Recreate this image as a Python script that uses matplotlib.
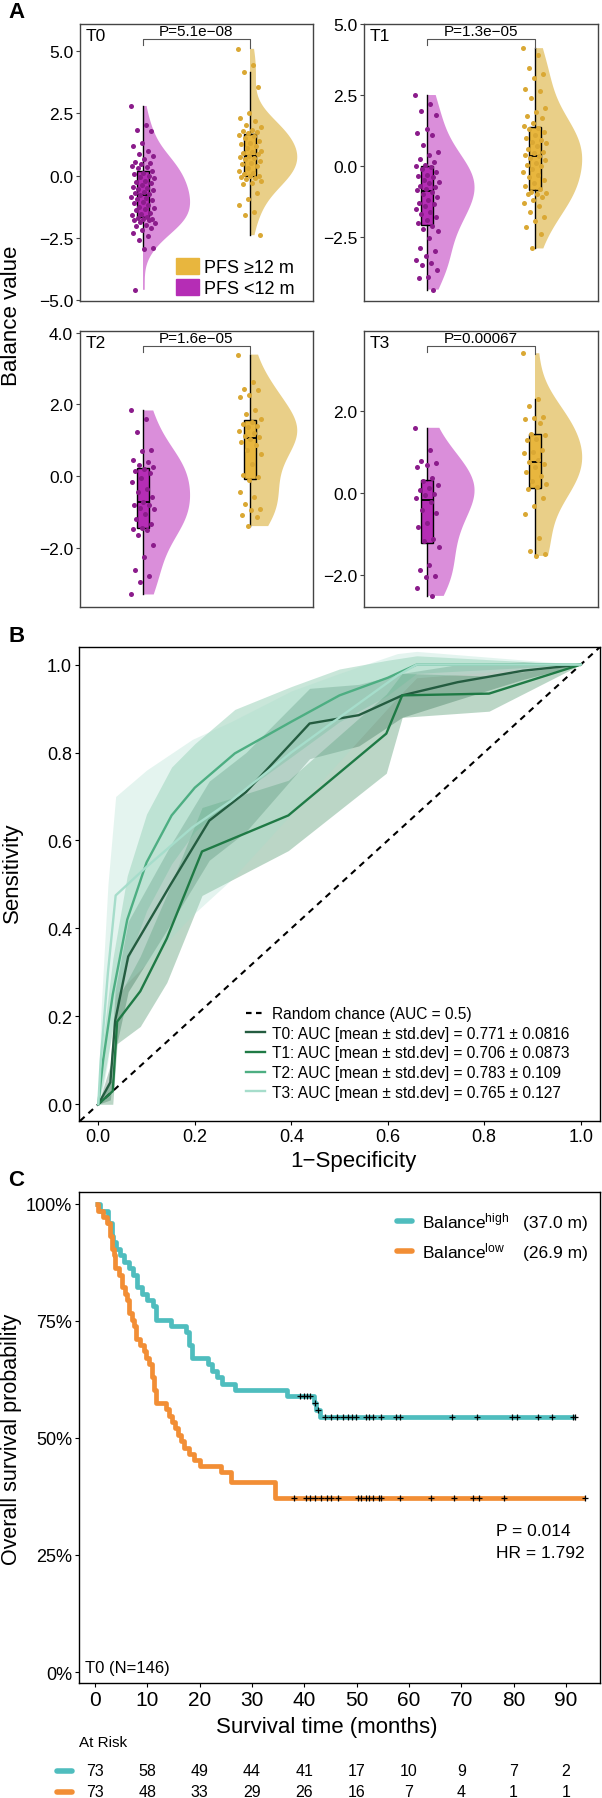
import numpy as np
import matplotlib.pyplot as plt
from matplotlib.lines import Line2D
from matplotlib.patches import Patch, Rectangle
from matplotlib.ticker import FuncFormatter
from matplotlib.transforms import blended_transform_factory

plt.rcParams['font.family'] = ['Liberation Sans', 'DejaVu Sans']
plt.rcParams['mathtext.fontset'] = 'custom'
plt.rcParams['mathtext.rm'] = 'Liberation Sans'
plt.rcParams['mathtext.it'] = 'Liberation Sans:italic'

# ---------------- panel A: balance value by PFS group ----------------
t0_short = [2.8, 2.05, 1.85, 1.8, 1.3, 1.2, 1.0, 0.85, 0.8, 0.65, 0.55, 0.5, 0.45, 0.4,
            0.35, 0.3, 0.2, 0.1, 0.05, 0.0, -0.05, -0.1, -0.2, -0.25, -0.3, -0.4, -0.45,
            -0.5, -0.55, -0.6, -0.65, -0.7, -0.75, -0.8, -0.85, -0.9, -0.95, -1.0, -1.05,
            -1.1, -1.2, -1.25, -1.3, -1.35, -1.4, -1.5, -1.55, -1.6, -1.65, -1.7, -1.75,
            -1.75, -1.8, -1.8, -1.85, -1.9, -2.0, -2.05, -2.1, -2.2, -2.3, -2.45, -2.6,
            -2.9, -2.95, -4.6]
t0_long = [5.1, 4.45, 4.15, 3.55, 2.5, 2.3, 2.2, 2.05, 1.95, 1.85, 1.8, 1.75, 1.7, 1.65,
           1.6, 1.5, 1.4, 1.3, 1.25, 1.2, 1.1, 1.0, 0.95, 0.9, 0.85, 0.8, 0.75, 0.7, 0.65,
           0.6, 0.5, 0.45, 0.4, 0.3, 0.2, 0.1, 0.05, 0.0, 0.0, -0.05, -0.1, -0.15, -0.2,
           -0.3, -0.35, -0.7, -0.95, -1.2, -1.45, -1.6, -2.4]
t1_short = [2.5, 2.2, 1.95, 1.8, 1.3, 1.15, 1.1, 0.75, 0.5, 0.4, 0.25, 0.15, 0.05, 0.0,
            -0.05, -0.1, -0.2, -0.3, -0.35, -0.4, -0.5, -0.55, -0.6, -0.7, -0.75, -0.8,
            -0.85, -0.9, -1.0, -1.1, -1.2, -1.3, -1.35, -1.4, -1.5, -1.6, -1.7, -1.8, -1.9,
            -2.0, -2.1, -2.2, -2.3, -2.55, -2.9, -3.0, -3.15, -3.3, -3.4, -3.5, -3.65, -3.9,
            -3.95, -4.35]
t1_long = [4.15, 3.9, 3.45, 3.25, 3.1, 2.7, 2.65, 2.4, 2.05, 1.9, 1.75, 1.7, 1.5, 1.4,
           1.35, 1.3, 1.2, 1.1, 1.0, 0.9, 0.85, 0.8, 0.7, 0.6, 0.5, 0.45, 0.4, 0.35, 0.3,
           0.2, 0.1, 0.05, 0.0, -0.1, -0.2, -0.3, -0.4, -0.5, -0.6, -0.7, -0.8, -0.9,
           -0.95, -1.0, -1.0, -1.1, -1.2, -1.3, -1.4, -1.6, -1.8, -1.95, -2.15, -2.4, -2.9]
t2_short = [1.83, 1.6, 1.23, 0.72, 0.7, 0.44, 0.39, 0.32, 0.25, 0.2, 0.13, 0.07, -0.07,
            -0.17, -0.35, -0.45, -0.59, -0.73, -0.8, -0.82, -0.89, -0.91, -1.05, -1.19,
            -1.33, -1.45, -1.47, -1.52, -1.66, -1.93, -2.26, -2.63, -2.79, -2.96, -3.31]
t2_long = [3.39, 2.62, 2.44, 2.4, 2.25, 2.2, 1.83, 1.74, 1.6, 1.5, 1.45, 1.41, 1.37, 1.27,
           1.2, 1.13, 1.09, 1.04, 0.95, 0.86, 0.72, 0.62, 0.34, 0.02, -0.03, -0.1, -0.45,
           -0.59, -0.77, -0.91, -0.96, -1.1, -1.14, -1.4]
t3_short = [1.58, 1.04, 0.77, 0.73, 0.67, 0.64, 0.37, 0.28, 0.18, 0.11, 0.06, -0.02, -0.05,
            -0.13, -0.21, -0.41, -0.49, -0.72, -0.84, -1.13, -1.17, -1.31, -1.74, -1.86,
            -2.02, -2.04, -2.31, -2.5]
t3_long = [3.39, 2.28, 2.1, 1.85, 1.81, 1.8, 1.69, 1.44, 1.4, 1.32, 1.28, 1.04, 1.0, 0.96,
           0.79, 0.75, 0.69, 0.63, 0.51, 0.42, 0.3, 0.22, 0.14, 0.1, -0.13, -0.31, -0.51,
           -1.09, -1.41, -1.49, -1.53]
tags = ['T0', 'T1', 'T2', 'T3']
pvals = ['P=5.1e\u221208', 'P=1.3e\u221205', 'P=1.6e\u221205', 'P=0.00067']

# ---------------- panel B: ROC curves (mean and std.dev) ----------------
roc_t0_x = [0, 0.025, 0.035, 0.062, 0.15, 0.23, 0.306, 0.438, 0.54, 0.63, 0.745, 0.88, 1.0]
roc_t0_y = [0, 0.05, 0.19, 0.336, 0.50, 0.645, 0.71, 0.866, 0.885, 0.93, 0.96, 0.986, 1.0]
roc_t0_sd = [0, 0.04, 0.07, 0.08, 0.09, 0.09, 0.09, 0.08, 0.07, 0.05, 0.04, 0.02, 0]
roc_t1_x = [0, 0.03, 0.039, 0.087, 0.142, 0.215, 0.394, 0.597, 0.63, 0.81, 1.0]
roc_t1_y = [0, 0.03, 0.188, 0.257, 0.377, 0.575, 0.657, 0.843, 0.93, 0.934, 1.0]
roc_t1_sd = [0, 0.03, 0.05, 0.08, 0.1, 0.1, 0.08, 0.09, 0.05, 0.04, 0]
roc_t2_x = [0, 0.01, 0.03, 0.06, 0.1, 0.152, 0.2, 0.283, 0.4, 0.5, 0.6, 0.66, 1.0]
roc_t2_y = [0, 0.1, 0.25, 0.42, 0.55, 0.657, 0.72, 0.798, 0.87, 0.93, 0.97, 1.0, 1.0]
roc_t2_sd = [0, 0.05, 0.08, 0.1, 0.11, 0.11, 0.1, 0.1, 0.08, 0.06, 0.04, 0.02, 0]
roc_t3_x = [0, 0.005, 0.02, 0.036, 0.1, 0.195, 0.275, 0.4, 0.5, 0.62, 0.66, 1.0]
roc_t3_y = [0, 0.1, 0.3, 0.475, 0.54, 0.63, 0.69, 0.8, 0.88, 0.975, 1.0, 1.0]
roc_t3_sd = [0, 0.1, 0.2, 0.225, 0.22, 0.2, 0.18, 0.14, 0.1, 0.05, 0.03, 0]
roc_labels = ['T0: AUC [mean \u00b1 std.dev] = 0.771 \u00b1 0.0816',
              'T1: AUC [mean \u00b1 std.dev] = 0.706 \u00b1 0.0873',
              'T2: AUC [mean \u00b1 std.dev] = 0.783 \u00b1 0.109',
              'T3: AUC [mean \u00b1 std.dev] = 0.765 \u00b1 0.127']

# ---------------- panel C: Kaplan-Meier ----------------
km_high_t = [0, 1.0, 2.4, 3.2, 3.4, 4.0, 4.8, 5.5, 6.4, 7.3, 8.0, 9.0, 10.0, 11.0, 11.7,
             14.5, 17.3, 18.0, 18.6, 21.6, 22.4, 23.3, 24.2, 26.8, 36.6, 41.9, 42.3, 43.0, 91.7]
km_high_s = [1.0, 0.986, 0.959, 0.932, 0.918, 0.904, 0.890, 0.877, 0.863, 0.849, 0.822,
             0.808, 0.795, 0.781, 0.753, 0.740, 0.726, 0.699, 0.671, 0.658, 0.644, 0.630,
             0.616, 0.603, 0.589, 0.575, 0.560, 0.545, 0.545]
km_low_t = [0, 0.5, 1.5, 2.2, 2.8, 3.2, 3.6, 3.9, 4.5, 5.2, 5.7, 6.1, 6.5, 7.0, 7.5, 7.9,
            8.6, 9.4, 9.8, 10.4, 10.9, 11.2, 11.6, 13.6, 14.2, 14.8, 15.3, 15.9, 16.5, 17.1,
            18.0, 19.0, 20.0, 24.1, 25.9, 34.4, 93.6]
km_low_s = [1.0, 0.986, 0.973, 0.959, 0.932, 0.904, 0.890, 0.863, 0.849, 0.822, 0.808,
            0.795, 0.767, 0.753, 0.740, 0.712, 0.699, 0.685, 0.671, 0.658, 0.630, 0.603,
            0.575, 0.562, 0.548, 0.534, 0.521, 0.507, 0.493, 0.479, 0.466, 0.452, 0.441,
            0.427, 0.405, 0.372, 0.372]
cens_high = [39.2, 39.9, 40.6, 41.0, 42.1, 42.6, 44.0, 45.1, 46.2, 47.3, 48.4, 49.1, 49.8,
             51.7, 52.4, 53.1, 54.6, 57.6, 58.3, 68.2, 73.0, 79.6, 80.7, 84.7, 87.3, 91.4, 91.7]
cens_low = [38.1, 40.3, 41.0, 42.1, 43.2, 44.3, 45.1, 46.5, 50.2, 50.9, 51.7, 52.4, 53.1,
            54.2, 54.6, 58.3, 64.2, 68.6, 72.2, 73.3, 78.1, 93.6]
risk_times = [0, 10, 20, 30, 40, 50, 60, 70, 80, 90]
risk_high = [73, 58, 49, 44, 41, 17, 10, 9, 7, 2]
risk_low = [73, 48, 33, 29, 26, 16, 7, 4, 1, 1]

PURPLE_PT, PURPLE_BOX, PURPLE_VIO = '#8B1C8B', '#B52DB5', '#DA8EDA'
GOLD_PT, GOLD_BOX, GOLD_VIO = '#DAA834', '#E8B63E', '#E9CF88'
ROC_COLORS = ['#245C40', '#1F7A45', '#4DAE82', '#A6DDCB']
TEAL, ORANGE = '#4FBDBE', '#F28E35'
FRAME = '#444444'

W, H = 602, 1799
fig = plt.figure(figsize=(W / 100, H / 100), dpi=100)


def add_ax(l, t, r, b):
    return fig.add_axes([l / W, 1 - b / H, (r - l) / W, (b - t) / H])


def ftext(x, y, s, **kw):
    fig.text(x / W, 1 - y / H, s, **kw)


fmt1 = FuncFormatter(lambda v, _: f"{v + 0:.1f}".replace('-', '\u2212'))


def raincloud(ax, groups, ylim, yticks, tag, pval):
    ax.set_xlim(0.413, 2.587)
    for p, vals, vc, bc, pc in zip([1, 2], groups, [PURPLE_VIO, GOLD_VIO],
                                   [PURPLE_BOX, GOLD_BOX], [PURPLE_PT, GOLD_PT]):
        vals = np.asarray(vals)
        vp = ax.violinplot([vals], positions=[p], widths=0.88, showextrema=False,
                           bw_method='silverman')
        body = vp['bodies'][0]
        body.set_facecolor(vc)
        body.set_edgecolor('none')
        body.set_alpha(1)
        body.set_zorder(1)
        body.set_clip_path(Rectangle((p, -50), 5, 100, transform=ax.transData))
        ax.boxplot([vals], positions=[p], widths=0.11, patch_artist=True,
                   showfliers=False, showcaps=False, manage_ticks=False,
                   boxprops=dict(facecolor=bc, edgecolor='black', lw=1),
                   medianprops=dict(color='black', lw=1.3),
                   whiskerprops=dict(color='black', lw=1), zorder=2)
        jit = ((np.arange(len(vals)) * 0.618034) % 1.0 - 0.5) * 0.22
        ax.scatter(p + jit, vals, s=13, color=pc, lw=0, zorder=3)
    ax.set_ylim(*ylim)
    ax.set_yticks(yticks)
    ax.yaxis.set_major_formatter(fmt1)
    ax.set_xticks([])
    ax.tick_params(axis='y', direction='out', length=3, width=0.8, color=FRAME,
                   labelsize=12.5, pad=2)
    for sp in ax.spines.values():
        sp.set_color(FRAME)
        sp.set_linewidth(1)
    tr = blended_transform_factory(ax.transData, ax.transAxes)
    ax.plot([1, 1, 2, 2], [0.925, 0.945, 0.945, 0.915], color='#555555', lw=0.8,
            transform=tr, clip_on=False)
    ax.text(1.5, 0.95, pval, transform=tr, ha='center', va='bottom', fontsize=11)
    ax.text(0.025, 0.985, tag, transform=ax.transAxes, ha='left', va='top', fontsize=12.5)


axA = [add_ax(80, 25, 313, 302), add_ax(364, 25, 598, 302),
       add_ax(80, 332, 313, 608), add_ax(364, 332, 598, 608)]
raincloud(axA[0], [t0_short, t0_long], (-5.05, 6.1), [-5, -2.5, 0, 2.5, 5], tags[0], pvals[0])
raincloud(axA[1], [t1_short, t1_long], (-4.75, 5.0), [-2.5, 0, 2.5, 5], tags[1], pvals[1])
raincloud(axA[2], [t2_short, t2_long], (-3.66, 4.05), [-2, 0, 2, 4], tags[2], pvals[2])
raincloud(axA[3], [t3_short, t3_long], (-2.77, 3.93), [-2, 0, 2], tags[3], pvals[3])
axA[0].legend(handles=[Patch(color=GOLD_BOX), Patch(color=PURPLE_BOX)],
              labels=['PFS \u226512 m', 'PFS <12 m'], loc='lower left',
              bbox_to_anchor=(0.41, 0.015), frameon=False, fontsize=13,
              handlelength=1.3, handleheight=1.0, handletextpad=0.3,
              labelspacing=0.15, borderpad=0, borderaxespad=0)

# ---------------- panel B ----------------
axB = add_ax(79, 648, 600, 1122)
roc = [(roc_t0_x, roc_t0_y, roc_t0_sd), (roc_t1_x, roc_t1_y, roc_t1_sd),
       (roc_t2_x, roc_t2_y, roc_t2_sd), (roc_t3_x, roc_t3_y, roc_t3_sd)]
for (x, y, sd), c in zip(roc, ROC_COLORS):
    x, y, sd = map(np.asarray, (x, y, sd))
    axB.fill_between(x, y - sd, y + sd, color=c, alpha=0.3, lw=0)
handles = [Line2D([], [], color='black', lw=1.6, ls=(0, (2.5, 2)))]
axB.axline((0, 0), slope=1, color='black', lw=1.5, ls=(0, (3, 2.5)))
for (x, y, sd), c in zip(roc, ROC_COLORS):
    ln, = axB.plot(x, y, color=c, lw=1.7)
    handles.append(ln)
axB.legend(handles, ['Random chance (AUC = 0.5)'] + roc_labels, loc='upper left',
           bbox_to_anchor=((246 - 79) / 521, (1122 - 1007) / 474), frameon=False,
           fontsize=11.2, handlelength=1.2, handletextpad=0.45, labelspacing=0.3,
           borderpad=0, borderaxespad=0)
axB.set_xlim(-0.04, 1.04)
axB.set_ylim(-0.038, 1.04)
axB.set_xticks(np.arange(0, 1.01, 0.2))
axB.set_yticks(np.arange(0, 1.01, 0.2))
axB.xaxis.set_major_formatter(fmt1)
axB.yaxis.set_major_formatter(fmt1)
axB.tick_params(direction='out', length=3, width=0.8, labelsize=13, pad=2)
for sp in axB.spines.values():
    sp.set_linewidth(1)

# ---------------- panel C ----------------
axC = add_ax(79, 1193, 600, 1684)
for t, s, cens, c in [(km_high_t, km_high_s, cens_high, TEAL),
                      (km_low_t, km_low_s, cens_low, ORANGE)]:
    axC.plot(t, s, drawstyle='steps-post', color=c, lw=3.4, solid_capstyle='butt')
    idx = np.searchsorted(t, cens, side='right') - 1
    axC.plot(cens, np.asarray(s)[idx], ls='none', marker='+', ms=5, mew=0.9, color='black')
axC.set_xlim(-3.06, 96.5)
axC.set_ylim(-0.0235, 1.0256)
axC.set_xticks(risk_times)
axC.set_yticks([0, 0.25, 0.5, 0.75, 1.0])
axC.set_yticklabels(['0%', '25%', '50%', '75%', '100%'])
axC.tick_params(axis='y', direction='out', length=3, width=0.8, labelsize=13, pad=2)
axC.tick_params(axis='x', direction='out', length=3, width=0.8, labelsize=15, pad=2)
for sp in axC.spines.values():
    sp.set_linewidth(1)

# legend of panel C: handle + label per row, median in its own column
for row_y, c, lab, med in [(1222, TEAL, r'Balance$^{\mathrm{high}}$', '(37.0 m)'),
                           (1252, ORANGE, r'Balance$^{\mathrm{low}}$', '(26.9 m)')]:
    fig.add_artist(Line2D([397 / W, 412 / W], [1 - row_y / H] * 2, color=c, lw=4,
                          solid_capstyle='round'))
    ftext(422, row_y + 6, lab, ha='left', va='baseline', fontsize=12.5)
    ftext(523, row_y + 6, med, ha='left', va='baseline', fontsize=12.5)
ftext(496, 1532, 'P = 0.014', ha='left', va='center', fontsize=12.5)
ftext(496, 1553, 'HR = 1.792', ha='left', va='center', fontsize=12.5)
ftext(85, 1669, 'T0 (N=146)', ha='left', va='center', fontsize=12)

# at-risk table
tr = blended_transform_factory(axC.transData, fig.transFigure)
ftext(79, 1743, 'At Risk', ha='left', va='center', fontsize=11)
for row_y, counts, c in [(1772, risk_high, TEAL), (1793, risk_low, ORANGE)]:
    for t, n in zip(risk_times, counts):
        axC.text(t, 1 - row_y / H, str(n), transform=tr, ha='center', va='center',
                 fontsize=11.5)
    fig.add_artist(Line2D([57 / W, 72 / W], [1 - row_y / H] * 2, color=c, lw=4,
                          solid_capstyle='round'))

# axis labels and panel letters
ftext(12, 316, 'Balance value', rotation=90, ha='center', va='center', fontsize=16)
ftext(12, 873, 'Sensitivity', rotation=90, ha='center', va='center', fontsize=16)
ftext(353, 1162, '1\u2212Specificity', ha='center', va='center', fontsize=16)
ftext(12, 1439, 'Overall survival probability', rotation=90, ha='center', va='center',
      fontsize=15.5)
ftext(327, 1728, 'Survival time (months)', ha='center', va='center', fontsize=16)
for letter, y in [('A', 12), ('B', 637), ('C', 1181)]:
    ftext(8, y, letter, ha='left', va='center', fontsize=16, fontweight='bold')

fig.savefig('out.png', dpi=100)
